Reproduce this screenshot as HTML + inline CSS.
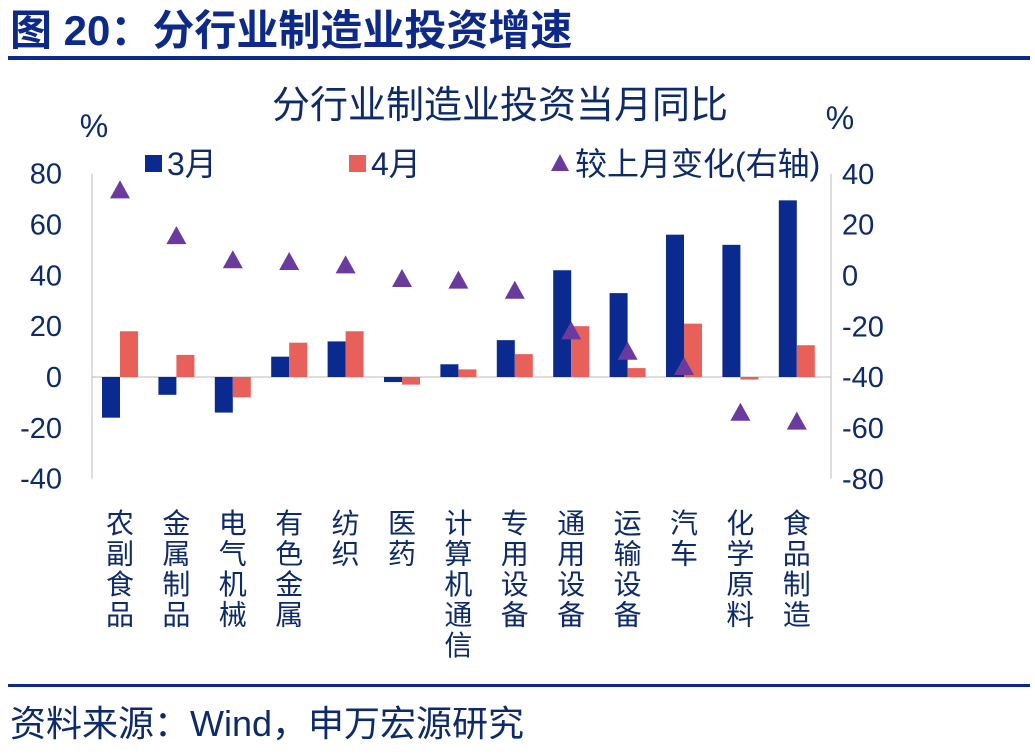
<!DOCTYPE html>
<html><head><meta charset="utf-8"><style>
body{margin:0;background:#fff;}
svg text{font-family:"Liberation Sans","Noto Sans CJK SC",sans-serif;}
</style></head><body>
<svg width="1035" height="751" xmlns="http://www.w3.org/2000/svg">
<text x="10" y="45" font-size="42" font-weight="bold" fill="#0d2a8a">图 20：分行业制造业投资增速</text>
<rect x="8" y="56" width="1022" height="4" fill="#0d2a8a"/>
<text x="500" y="118" font-size="38" fill="#0d2a6a" text-anchor="middle">分行业制造业投资当月同比</text>
<text x="94" y="137" font-size="32" fill="#0d2a6a" text-anchor="middle">%</text>
<text x="840" y="129" font-size="32" fill="#0d2a6a" text-anchor="middle">%</text>
<g>
<rect x="145" y="155" width="17" height="17" fill="#0a2a8f"/>
<text x="167" y="175" font-size="32" fill="#0d2a6a">3月</text>
<rect x="349" y="155" width="17" height="17" fill="#e8605a"/>
<text x="371" y="175" font-size="32" fill="#0d2a6a">4月</text>
<polygon points="560,154 569,171 551,171" fill="#6b3a9e"/>
<text x="575" y="175" font-size="32" fill="#0d2a6a">较上月变化(右轴)</text>
</g>
<g id="plot"></g>
<rect x="8" y="684" width="1022" height="3" fill="#0d2a8a"/>
<text x="10" y="736" font-size="36" fill="#0d2a6a">资料来源：Wind，申万宏源研究</text>
</svg>
<script>
const categories=["农副食品","金属制品","电气机械","有色金属","纺织","医药","计算机通信","专用设备","通用设备","运输设备","汽车","化学原料","食品制造"];
const marValues=[-16,-7,-14,8,14,-2,5,14.5,42,33,56,52,69.5];
const aprValues=[18,8.7,-8,13.5,18,-3,3,9,20,3.5,21,-1,12.5];
const changeValues=[33.5,15.5,6,5.3,4,-1.4,-2,-6,-22,-30,-36,-54,-57.5];
const leftTicks=[80,60,40,20,0,-20,-40];
const rightTicks=[40,20,0,-20,-40,-60,-80];
const NS="http://www.w3.org/2000/svg";
const g=document.getElementById('plot');
const yL=v=>377-(v)*(305/120);
const yR=v=>275.5-(v)*(305/120);
const xC=i=>120+i*56.4;
function mk(t,a){const e=document.createElementNS(NS,t);for(const k in a)e.setAttribute(k,a[k]);g.appendChild(e);return e;}
leftTicks.forEach(v=>{const e=mk('text',{x:62,y:yL(v)+10,'font-size':29,fill:'#0d2a6a','text-anchor':'end'});e.textContent=v;

});
rightTicks.forEach(v=>{const e=mk('text',{x:842,y:yR(v)+10,'font-size':29,fill:'#0d2a6a'});e.textContent=v;

});
let a=mk('line',{x1:92,y1:yL(80),x2:92,y2:yL(-40),stroke:'#bbb','stroke-width':1});


a=mk('line',{x1:831,y1:yL(80),x2:831,y2:yL(-40),stroke:'#bbb','stroke-width':1});


a=mk('line',{x1:92,y1:yL(0),x2:831,y2:yL(0),stroke:'#bbb','stroke-width':1});


categories.forEach((c,i)=>{
 const x=xC(i);
 const m=marValues[i],p=aprValues[i];
 let r=mk('rect',{x:x-18,y:Math.min(yL(m),yL(0)),width:18,height:Math.abs(yL(m)-yL(0)),fill:'#0a2a8f'});
 
 
 r=mk('rect',{x:x,y:Math.min(yL(p),yL(0)),width:18,height:Math.abs(yL(p)-yL(0)),fill:'#e8605a'});
 
 
 const ty=yR(changeValues[i]);
 r=mk('polygon',{points:`${x},${ty-10} ${x+10},${ty+8} ${x-10},${ty+8}`,fill:'#6b3a9e'});
 
 
 [...c].forEach((ch,j)=>{const t=mk('text',{x:x,y:533+j*30.5,'font-size':28,fill:'#0d2a6a','text-anchor':'middle'});t.textContent=ch;
 
 });
});
</script>
</body></html>
